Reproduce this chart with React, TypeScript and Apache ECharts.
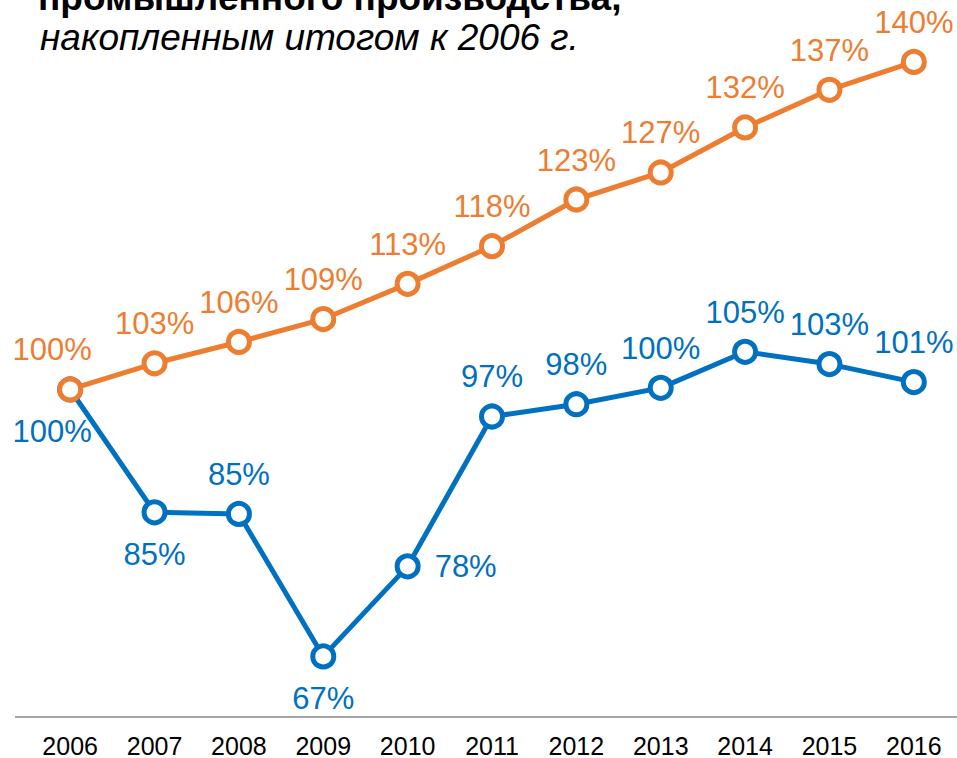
import React, { useEffect, useRef } from "react";
import * as echarts from "echarts";

const years = ["2006", "2007", "2008", "2009", "2010", "2011", "2012", "2013", "2014", "2015", "2016"];
// blue series (промышленное производство)
const blueValues = [100, 85.0, 84.8, 67.4, 78.4, 96.7, 98.2, 100.2, 104.6, 103.1, 100.9];
// orange series
const orangeValues = [100, 103.2, 105.8, 108.6, 112.9, 117.5, 123.2, 126.5, 132.0, 136.6, 140.0];
const bluePositions = ["bottom", "bottom", "top", "bottom", "right", "top", "top", "top", "top", "top", "top"];
const titleLine1 = "промышленного производства,";
const titleLine2 = "накопленным итогом к 2006 г.";

const BLUE = "#0070C0";
const ORANGE = "#ED7D31";
const LABEL_FONT = "'Liberation Sans', Arial, sans-serif";

export default function App() {
  const ref = useRef<HTMLDivElement>(null);
  useEffect(() => {
    if (!ref.current) return;
    const chart = echarts.init(ref.current, null, { renderer: "svg" });
    const fmt = (p: any) => Math.round(p.value) + "%";
    const blueData = blueValues.map((v, i) => ({
      value: v,
      label: {
        position: bluePositions[i],
        offset: i === 0 ? [-18, 0] : [0, 0],
        distance: bluePositions[i] === "right" ? 14 : bluePositions[i] === "bottom" ? 14 : 11,
      },
    }));
    const orangeData = orangeValues.map((v, i) => ({
      value: v,
      label: {
        position: "top",
        offset: i === 0 ? [-18, 0] : [0, 0],
        distance: 11,
      },
    }));
    chart.setOption({
      animation: false,
      backgroundColor: "#fff",
      grid: { left: 28, right: 1, top: 21, bottom: 38, containLabel: false },
      xAxis: {
        type: "category",
        data: years,
        boundaryGap: true,
        axisLine: { show: false },
        axisTick: { show: false },
        axisLabel: {
          color: "#000",
          fontSize: 25,
          fontFamily: LABEL_FONT,
          margin: 16,
        },
      },
      yAxis: { type: "value", min: 60, max: 145, show: false, splitLine: { show: false } },
      graphic: [
        {
          type: "line",
          shape: { x1: 15, y1: 717, x2: 957, y2: 717 },
          style: { stroke: "#A6A6A6", lineWidth: 2 },
          z: 0,
        },
        {
          type: "text",
          x: 38,
          y: -3,
          style: {
            text: titleLine1,
            fontSize: 37,
            fontWeight: "bold",
            fontFamily: LABEL_FONT,
            fill: "#000",
            verticalAlign: "middle",
          },
        },
        {
          type: "text",
          x: 40,
          y: 37,
          style: {
            text: titleLine2,
            fontSize: 37,
            fontStyle: "italic",
            fontFamily: LABEL_FONT,
            fill: "#000",
            verticalAlign: "middle",
          },
        },
      ],
      series: [
        {
          name: "Промышленное производство",
          type: "line",
          data: blueData,
          symbol: "circle",
          symbolSize: 21,
          lineStyle: { color: BLUE, width: 5 },
          itemStyle: { color: "#fff", borderColor: BLUE, borderWidth: 5 },
          label: { show: true, formatter: fmt, color: BLUE, fontSize: 31, fontFamily: LABEL_FONT },
          z: 2,
        },
        {
          name: "Ряд 2",
          type: "line",
          data: orangeData,
          symbol: "circle",
          symbolSize: 21,
          lineStyle: { color: ORANGE, width: 5 },
          itemStyle: { color: "#fff", borderColor: ORANGE, borderWidth: 5 },
          label: { show: true, formatter: fmt, color: ORANGE, fontSize: 31, fontFamily: LABEL_FONT },
          z: 3,
        },
      ],
    });
    return () => chart.dispose();
  }, []);
  return (
    <div
      ref={ref}
      style={{ position: "absolute", left: 0, top: 0, width: 957, height: 758 }}
    />
  );
}
